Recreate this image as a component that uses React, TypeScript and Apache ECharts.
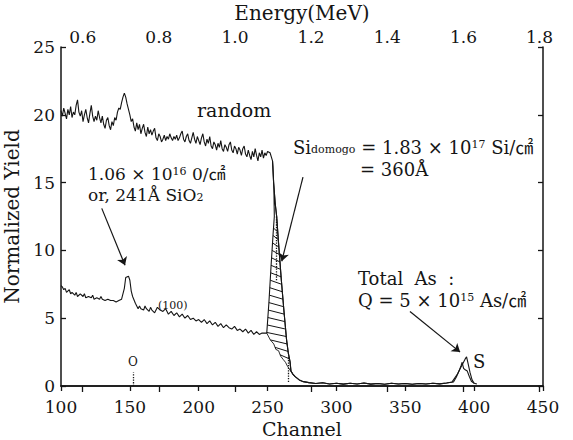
import { useEffect, useRef } from "react";
import * as echarts from "echarts";

const SERIF = '"DejaVu Serif", "Noto Sans CJK JP", serif';
const INK = "#151515";

// axes
const channelMin = 100;
const channelMax = 450;
const channelStep = 50;
const yieldMin = 0;
const yieldMax = 25;
const yieldStep = 5;
const energyTicks = [0.6, 0.8, 1.0, 1.2, 1.4, 1.6, 1.8];
const energyAtFirstChannel = 0.543;
const energyAtLastChannel = 1.809;

// random spectrum, bulk part [channel, yield]
const randomBulk: [number, number][] = [
  [100, 20.3], [101, 19.9], [102, 20.5], [103, 20.1], [104, 19.7], [105, 20.4],
  [106, 20.0], [107, 20.6], [108, 19.8], [109, 20.2], [110, 20.0], [111, 20.7],
  [112, 21.1], [113, 20.2], [114, 19.9], [115, 20.3], [116, 19.5], [117, 20.0],
  [118, 20.4], [119, 19.8], [120, 19.4], [121, 20.1], [122, 20.7], [123, 19.9],
  [124, 19.5], [125, 19.9], [126, 19.6], [127, 20.3], [128, 19.8], [129, 19.4],
  [130, 19.9], [131, 19.3], [132, 19.0], [133, 19.6], [134, 19.8], [135, 19.2],
  [136, 18.9], [137, 19.5], [138, 19.2], [139, 19.8], [140, 19.6], [141, 20.2],
  [142, 20.5], [143, 20.4], [144, 20.9], [145, 21.3], [146, 21.6], [147, 21.3],
  [148, 20.8], [149, 20.4], [150, 20.0], [151, 19.5], [152, 19.7], [153, 19.1],
  [154, 18.8], [155, 19.4], [156, 18.9], [157, 19.3], [158, 18.6], [159, 19.0],
  [160, 19.3], [161, 18.7], [162, 18.4], [163, 19.1], [164, 18.6], [165, 18.9],
  [166, 18.5], [167, 18.8], [168, 19.0], [169, 18.3], [170, 18.1], [171, 18.6],
  [172, 18.4], [173, 18.0], [174, 18.2], [175, 18.5], [176, 18.1], [177, 18.4],
  [178, 18.2], [179, 18.6], [180, 18.3], [181, 18.1], [182, 18.4], [183, 18.2],
  [184, 18.5], [185, 18.1], [186, 18.3], [187, 18.6], [188, 18.8], [189, 18.2],
  [190, 18.0], [191, 18.4], [192, 18.6], [193, 18.1], [194, 17.9], [195, 18.3],
  [196, 18.7], [197, 18.2], [198, 17.9], [199, 18.4], [200, 18.1], [201, 17.8],
  [202, 18.3], [203, 18.6], [204, 18.0], [205, 17.7], [206, 18.2], [207, 17.9],
  [208, 18.4], [209, 17.7], [210, 17.5], [211, 18.0], [212, 17.8], [213, 17.4],
  [214, 17.9], [215, 17.6], [216, 18.1], [217, 17.5], [218, 17.3], [219, 17.8],
  [220, 17.6], [221, 17.3], [222, 17.8], [223, 18.0], [224, 17.4], [225, 17.2],
  [226, 17.7], [227, 17.5], [228, 17.1], [229, 17.6], [230, 17.4], [231, 17.0],
  [232, 17.5], [233, 17.7], [234, 17.1], [235, 16.9], [236, 17.4], [237, 17.0],
  [238, 16.7], [239, 17.3], [240, 16.9], [241, 17.5], [242, 17.0], [243, 16.6],
  [244, 17.2], [245, 16.9], [246, 17.4], [247, 16.8], [248, 17.2], [249, 17.0],
  [250, 17.3], [251.8, 17.2], [253.6, 16.6],
];

// aligned (100) spectrum, bulk part
const alignedBulk: [number, number][] = [
  [100, 7.4], [101, 7.3], [102, 7.1], [103, 7.2], [104, 6.9], [106, 7.1],
  [107, 6.8], [108, 6.9], [110, 6.7], [111, 6.9], [112, 6.6], [114, 6.8],
  [116, 6.6], [117, 6.8], [118, 6.5], [120, 6.6], [122, 6.5], [123, 6.7],
  [124, 6.4], [126, 6.5], [128, 6.4], [129, 6.6], [130, 6.4], [132, 6.3],
  [134, 6.4], [136, 6.3], [138, 6.3], [140, 6.2], [142, 6.3], [144, 6.4],
  [146, 7.2], [147, 8.0], [149, 8.1], [150, 7.8], [151, 7.0], [152, 6.6],
  [154, 6.1], [156, 5.7], [157, 5.9], [158, 5.7], [160, 5.6], [161, 5.9],
  [162, 5.7], [164, 5.5], [165, 5.8], [166, 5.6], [168, 5.4], [170, 5.8],
  [172, 5.6], [174, 5.5], [176, 5.7], [178, 5.3], [180, 5.5], [182, 5.2],
  [184, 5.4], [186, 5.1], [188, 5.3], [190, 5.0], [192, 5.2], [194, 4.9],
  [196, 5.0], [198, 4.8], [200, 4.9], [202, 4.7], [204, 4.9], [206, 4.6],
  [208, 4.8], [210, 4.5], [212, 4.7], [214, 4.4], [216, 4.6], [218, 4.3],
  [220, 4.5], [222, 4.3], [224, 4.2], [226, 4.4], [228, 4.1], [230, 4.2],
  [232, 4.0], [234, 4.2], [236, 3.9], [238, 4.1], [240, 3.8], [242, 4.0],
  [244, 3.8], [246, 3.9], [248, 3.9],
];

// Si surface (damage) peak of the aligned spectrum, rising flank
const alignedRise: [number, number][] = [
  [249.4, 3.9], [251, 6.2], [252.5, 8.8], [254, 11.2], [254.9, 12.5],
  [254.6, 14.5], [253.9, 16.2], [253.6, 16.6],
];

// Si edge, falling flank common to both spectra
const sharedFall: [number, number][] = [
  [254.4, 15.0], [255.5, 13.5], [256.6, 12.5], [258, 10.5], [260, 7.8],
  [262, 5.4], [263.8, 3.4], [265.1, 2.4], [266.3, 1.8], [267, 1.1],
];

// low tail behind the Si edge
const lowTail: [number, number][] = [
  [268.5, 0.85], [270, 0.69], [273, 0.45], [276, 0.32], [280, 0.25], [285, 0.18],
  [290, 0.24], [295, 0.15], [300, 0.2], [305, 0.14], [310, 0.2], [315, 0.15],
  [320, 0.22], [325, 0.14], [330, 0.18], [335, 0.13], [340, 0.2], [345, 0.15],
  [350, 0.18], [355, 0.13], [360, 0.19], [365, 0.15], [370, 0.2], [375, 0.16],
  [380, 0.22],
];

// As surface peak
const asPeakRandom: [number, number][] = [
  [384, 0.3], [386, 0.6], [388, 0.9], [390, 1.3], [392, 1.7], [393.5, 2.0],
  [394.5, 2.15], [395.5, 1.7], [397, 1.0], [398.5, 0.45], [400, 0.2], [402, 0.15],
];
const asPeakAligned: [number, number][] = [
  [385, 0.3], [387, 0.65], [389, 1.1], [390.5, 1.5], [391.3, 1.75], [392.3, 1.3],
  [393.5, 1.2], [395, 1.1], [396.5, 0.7], [398, 0.35], [400, 0.2],
];

// extrapolated background under the damage peak
const damageBackground: [number, number][] = [
  [249.4, 3.9], [252, 3.4], [254.5, 3.1], [256, 2.7], [258, 2.6], [259.5, 2.2],
  [261.4, 1.95], [263, 1.75], [264.5, 1.45], [266.3, 1.18], [268.5, 0.85],
];

// hatching levels inside the damage peak
const hatchLevels = [2.3, 2.85, 3.4, 3.95, 4.5, 5.05, 5.6, 6.15, 6.7, 7.25, 7.8, 8.35, 8.9, 9.45, 10.0, 10.55, 11.1, 11.65];
const hatchTilt = 0.3;

// annotation arrows [fromCh, fromY, toCh, toY]
const arrowLines: [number, number, number, number][] = [
  [129.6, 13.1, 146.5, 8.9],
  [275.7, 15.4, 260.3, 9.2],
  [353.4, 5.5, 389.8, 2.5],
];
// dotted markers [ch, y1, y2]
const dottedMarks: [number, number, number][] = [
  [152.5, 0, 1.0],
  [265.1, 0.3, 2.2],
  [256.6, 7.8, 12.5],
];

const randomSpectrum = [...randomBulk, ...sharedFall, ...lowTail, ...asPeakRandom];
const alignedSpectrum = [...alignedBulk, ...alignedRise, ...sharedFall, ...lowTail, ...asPeakAligned];

function crossAt(points: [number, number][], v: number): number | null {
  for (let i = 0; i < points.length - 1; i++) {
    const [x1, y1] = points[i];
    const [x2, y2] = points[i + 1];
    if ((y1 - v) * (y2 - v) <= 0 && y1 !== y2) {
      return x1 + ((v - y1) * (x2 - x1)) / (y2 - y1);
    }
  }
  return null;
}

const hatchSegments = hatchLevels
  .map((v) => {
    const xl = v >= alignedRise[0][1] ? crossAt(alignedRise, v) : crossAt(damageBackground, v);
    const xr = crossAt(sharedFall, v - hatchTilt);
    return xl !== null && xr !== null ? [xl, v, xr, v - hatchTilt] : null;
  })
  .filter((s) => s !== null) as number[][];

function makeRich(size: number) {
  return {
    m: { fontSize: size, fontFamily: SERIF, color: INK, lineHeight: 16 },
    p: { fontSize: 11, fontFamily: SERIF, color: INK, verticalAlign: "top", lineHeight: 9 },
    b: { fontSize: 11, fontFamily: SERIF, color: INK, verticalAlign: "bottom", lineHeight: 9 },
  };
}

function label(x: number, y: number, text: string, fontSize = 18, align = "left", useRich = true) {
  return {
    type: "text",
    x,
    y,
    silent: true,
    style: {
      text,
      ...(useRich ? { rich: makeRich(fontSize) } : {}),
      fontSize,
      fontFamily: SERIF,
      fill: INK,
      align,
      verticalAlign: "middle",
    },
  };
}

export default function App() {
  const ref = useRef<HTMLDivElement>(null);
  useEffect(() => {
    if (!ref.current) return;
    const chart = echarts.init(ref.current, undefined, { renderer: "svg" });
    const axisLine = { lineStyle: { color: INK, width: 1.5 } };
    const tickStyle = { color: INK, width: 1.3 };
    chart.setOption({
      animation: false,
      backgroundColor: "#ffffff",
      grid: { left: 61, right: 30, top: 47, bottom: 54, containLabel: false, outerBoundsMode: "none" },
      xAxis: [
        {
          type: "value",
          position: "bottom",
          min: channelMin,
          max: channelMax,
          interval: channelStep,
          name: "Channel",
          nameLocation: "middle",
          nameGap: 29,
          nameTextStyle: { fontFamily: SERIF, fontSize: 19, color: INK },
          axisLine,
          axisTick: { inside: false, length: 5, lineStyle: tickStyle },
          axisLabel: { fontFamily: SERIF, fontSize: 17, color: INK, margin: 12 },
          splitLine: { show: false },
        },
        {
          type: "value",
          position: "top",
          min: energyAtFirstChannel,
          max: energyAtLastChannel,
          name: "Energy(MeV)",
          nameLocation: "middle",
          nameGap: 22,
          nameTextStyle: { fontFamily: SERIF, fontSize: 20, color: INK },
          axisLine,
          axisTick: { inside: true, length: 6, lineStyle: tickStyle, customValues: energyTicks },
          axisLabel: {
            fontFamily: SERIF,
            fontSize: 17,
            color: INK,
            margin: 2,
            customValues: energyTicks,
            formatter: (v: number) => v.toFixed(1),
          },
          splitLine: { show: false },
        },
      ],
      yAxis: [
        {
          type: "value",
          position: "left",
          min: yieldMin,
          max: yieldMax,
          interval: yieldStep,
          name: "Normalized Yield",
          nameLocation: "middle",
          nameGap: 30,
          nameTextStyle: { fontFamily: SERIF, fontSize: 20, color: INK },
          axisLine,
          axisTick: { inside: true, length: 5, lineStyle: tickStyle },
          axisLabel: { fontFamily: SERIF, fontSize: 17, color: INK, margin: 6 },
          splitLine: { show: false },
        },
        {
          type: "value",
          position: "right",
          min: yieldMin,
          max: yieldMax,
          interval: yieldStep,
          axisLine: { show: true, ...axisLine },
          axisTick: { show: true, inside: true, length: 5, lineStyle: tickStyle },
          axisLabel: { show: false },
          splitLine: { show: false },
        },
      ],
      series: [
        {
          name: "random",
          type: "line",
          xAxisIndex: 0,
          yAxisIndex: 0,
          data: randomSpectrum,
          showSymbol: false,
          symbol: "none",
          lineStyle: { color: INK, width: 1.1 },
          markLine: {
            silent: true,
            animation: false,
            symbol: ["none", "arrow"],
            symbolSize: 8,
            label: { show: false },
            lineStyle: { color: INK, width: 1.2, type: "solid" },
            data: arrowLines.map((a) => [{ coord: [a[0], a[1]] }, { coord: [a[2], a[3]] }]),
          },
        },
        {
          name: "aligned",
          type: "line",
          xAxisIndex: 0,
          yAxisIndex: 0,
          data: alignedSpectrum,
          showSymbol: false,
          symbol: "none",
          lineStyle: { color: INK, width: 1.1 },
          markLine: {
            silent: true,
            animation: false,
            symbol: ["none", "none"],
            label: { show: false },
            lineStyle: { color: INK, width: 1.3, type: "dotted" },
            data: dottedMarks.map((d) => [{ coord: [d[0], d[1]] }, { coord: [d[0], d[2]] }]),
          },
        },
        {
          name: "background",
          type: "line",
          xAxisIndex: 0,
          yAxisIndex: 0,
          data: damageBackground,
          showSymbol: false,
          symbol: "none",
          lineStyle: { color: INK, width: 0.9 },
        },
        {
          name: "hatch",
          type: "custom",
          xAxisIndex: 0,
          yAxisIndex: 0,
          data: hatchSegments,
          encode: { x: [0, 2], y: [1, 3] },
          renderItem: (_p: any, api: any) => {
            const a = api.coord([api.value(0), api.value(1)]);
            const b = api.coord([api.value(2), api.value(3)]);
            return {
              type: "line",
              shape: { x1: a[0], y1: a[1], x2: b[0], y2: b[1] },
              style: { stroke: INK, lineWidth: 1 },
            };
          },
        },
      ],
      graphic: [
        label(197, 110, "random", 19, "left", false),
        label(88, 174, "{m|1.06 × 10}{p|16}{m| 0/㎠}", 17),
        label(88, 195, "{m|or, 241Å SiO}{b|2}", 17),
        label(293, 147, "{m|Si}{b|domogo}{m| = 1.83 × 10}{p|17}{m| Si/㎠}"),
        label(360, 169, "{m|= 360Å}"),
        label(358, 278, "{m|Total  As  :}"),
        label(358, 300, "{m|Q = 5 × 10}{p|15}{m| As/㎠}"),
        label(473, 361, "S", 18, "left", false),
        label(158, 305, "(100)", 11, "left", false),
        label(133, 362, "O", 12, "center", false),
      ],
    });
    return () => chart.dispose();
  }, []);
  return (
    <div
      ref={ref}
      style={{ position: "fixed", left: 0, top: 0, width: 573, height: 440, background: "#fff" }}
    />
  );
}
